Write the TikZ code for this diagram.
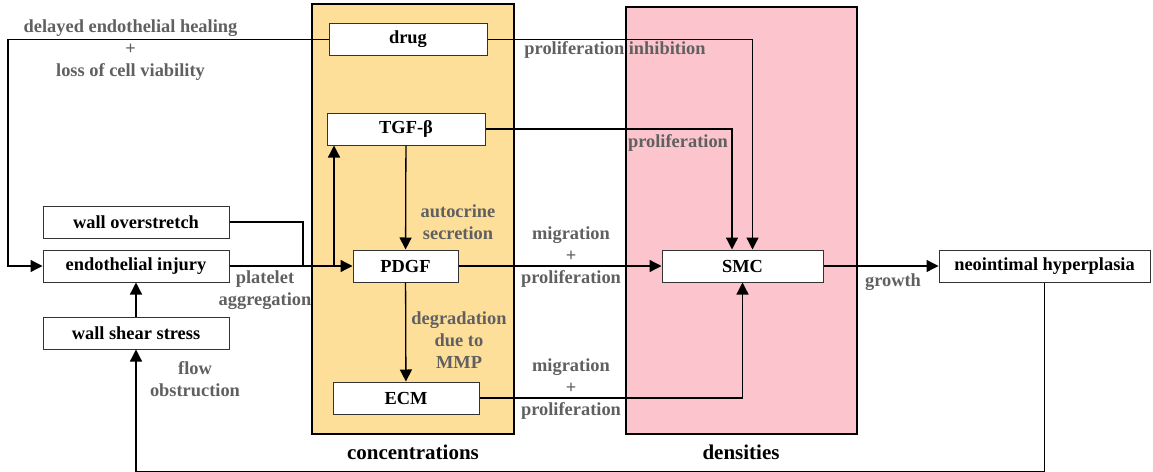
\documentclass[tikz,border=0pt]{standalone}
\usepackage{fontspec}
\setmainfont{Liberation Serif}
\usetikzlibrary{arrows.meta}
\definecolor{concfill}{RGB}{254,223,154}
\definecolor{densfill}{RGB}{252,196,204}
\definecolor{notegray}{RGB}{96,96,96}
\newcommand{\diafont}{\fontsize{18.4pt}{22pt}\selectfont\bfseries}
\tikzset{
  block/.style={draw=black!80, line width=1pt, fill=white, minimum height=32pt, inner sep=0pt, font=\diafont},
  link/.style={line width=1.3pt, -{Triangle[length=12pt,width=12pt]}},
  note/.style={text=notegray, font=\diafont, align=center, inner sep=0pt},
  region/.style={draw=black, line width=2pt},
}
\begin{document}
\begin{tikzpicture}[x=1pt, y=-1pt]
        \useasboundingbox (0,0) rectangle (1153,471);
        % the two regions
        \filldraw[region, fill=concfill] (312,4) rectangle (514,434);
        \filldraw[region, fill=densfill] (626,7) rectangle (857,434);
        \node[font=\fontsize{21pt}{25pt}\selectfont\bfseries] (conc) at (413,452) {concentrations};
        \node[font=\fontsize{21pt}{25pt}\selectfont\bfseries] (dens) at (741,452) {densities};
        % boxes
        \node[block, minimum width=158pt] (drug) at (408,39.5) {drug};
        \node[block, minimum width=158pt] (tgf) at (406,129) {TGF-β};
        \node[block, minimum width=105pt] (pdgf) at (405.5,266) {PDGF};
        \node[block, minimum width=146pt] (ecm) at (406,398) {ECM};
        \node[block, minimum width=186pt] (overstretch) at (136,222) {wall overstretch};
        \node[block, minimum width=186pt] (injury) at (136,266) {endothelial injury};
        \node[block, minimum width=186pt] (shear) at (136,333) {wall shear stress};
        \node[block, minimum width=161pt] (smc) at (742.5,266) {SMC};
        \node[block, minimum width=211pt] (hyper) at (1044.5,266) {neointimal hyperplasia};
        \coordinate (merge) at (303,266);
        \coordinate (split) at (334,266);
        \coordinate (loop) at (136,471.4);
        % connectors
        \draw[link] (drug.west) -- (8,39.5) |- (injury.west);
        \draw[link] (drug.east) -| ([xshift=10pt]smc.north);
        \draw[link] (tgf.east) -| ([xshift=-10.5pt]smc.north);
        \draw[link] (ecm.east) -| (smc.south);
        \draw[line width=1.3pt] (overstretch.east) -| (merge);
        \draw[link] (injury) -- (pdgf);
        \draw[link] (split) -- (split |- tgf.south);
        \draw[link] (tgf) -- (pdgf);
        \draw[link] (pdgf) -- (ecm);
        \draw[link] (pdgf) -- (smc);
        \draw[link] (smc) -- (hyper);
        \draw[link] (shear) -- (injury);
        \draw[link] (hyper.south) |- (loop) -- (shear);
        % labels
        \node[note] (delay) at (130.5,50) {delayed endothelial healing\\+\\loss of cell viability};
        \node[note] (platelet) at (265,290) {platelet\\aggregation};
        \node[note] (flow) at (195,379.5) {flow\\obstruction};
        \node[note] (autocrine) at (458,222) {autocrine\\secretion};
        \node[note] (degrade) at (459,340) {degradation\\due to\\MMP};
        \node[note] (inhibit) at (615,50) {proliferation inhibition};
        \node[note] (prolif) at (678,143) {proliferation};
        \node[note] (migrate) at (571,257) {migration\\+\\proliferation};
        \node[note] (migrate2) at (571,389) {migration\\+\\proliferation};
        \node[note] (growth) at (893,282) {growth};
\end{tikzpicture}
\end{document}
